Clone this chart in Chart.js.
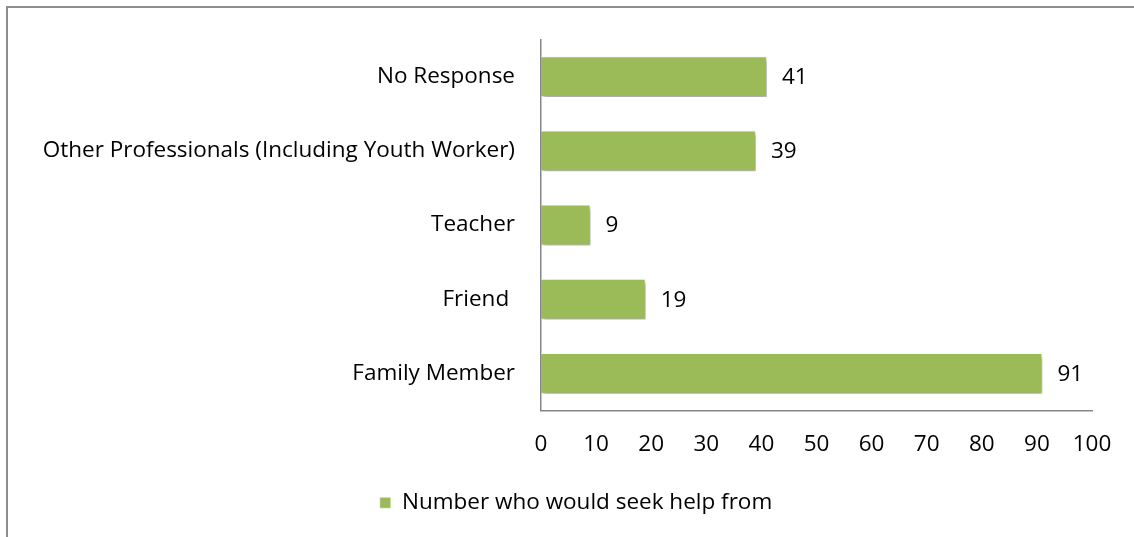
<!DOCTYPE html>
<html>
<head>
<meta charset="utf-8">
<script src="https://cdn.jsdelivr.net/npm/chart.js@4"></script>
<style>
  body { margin: 0; background: #fff; }
  #wrap { position: relative; width: 1134px; height: 537px; }
  #frame { position: absolute; left: 6px; top: 6px; right: 0; bottom: 0;
           border-top: 2px solid #8e8e8e; border-left: 2px solid #8e8e8e; pointer-events: none; }
</style>
</head>
<body>
<div id="wrap">
  <canvas id="helpChart" width="1134" height="537"></canvas>
  <div id="frame"></div>
</div>
<script>
const categories = ['No Response', 'Other Professionals (Including Youth Worker)', 'Teacher', 'Friend ', 'Family Member'];
const helpCounts = [41, 39, 9, 19, 91];
const seriesName = 'Number who would seek help from';
const xTicks = [0, 10, 20, 30, 40, 50, 60, 70, 80, 90, 100];

const barGreen = '#9bbb59';
const fontFamily = '"Open Sans", sans-serif';
const fontSize = 22.5;

// shadow under the bars + value labels at their ends
const barExtras = {
    id: 'barExtras',
    afterLayout(chart) {
        // legend sits a bit right of the canvas centre
        chart.legend.left = 60;
    },
    beforeDatasetsDraw(chart) {
        const ctx = chart.ctx;
        ctx.save();
        ctx.shadowColor = 'rgba(0,0,0,0.35)';
        ctx.shadowOffsetX = 2;
        ctx.shadowOffsetY = 3;
        ctx.shadowBlur = 4;
    },
    afterDatasetsDraw(chart) {
        const ctx = chart.ctx;
        ctx.restore();
        ctx.save();
        ctx.font = fontSize + 'px ' + fontFamily;
        ctx.fillStyle = '#000';
        ctx.textAlign = 'left';
        ctx.textBaseline = 'middle';
        const meta = chart.getDatasetMeta(0);
        meta.data.forEach((bar, i) => {
            ctx.fillText(String(chart.data.datasets[0].data[i]), bar.x + 15, bar.y + 1);
        });
        ctx.restore();
    }
};

new Chart(document.getElementById('helpChart'), {
    type: 'bar',
    data: {
        labels: categories,
        datasets: [{
            label: seriesName,
            data: helpCounts,
            backgroundColor: barGreen,
            borderColor: 'rgba(255,255,255,0.5)',
            borderWidth: 1,
            barPercentage: 0.55,
            categoryPercentage: 1
        }]
    },
    options: {
        indexAxis: 'y',
        responsive: false,
        animation: false,
        layout: { padding: { top: 35, right: 42, left: 0, bottom: 13 } },
        plugins: {
            tooltip: { enabled: false },
            legend: {
                position: 'bottom',
                labels: {
                    boxWidth: 11, boxHeight: 11, padding: 10,
                    color: '#000',
                    font: { family: fontFamily, size: fontSize }
                }
            }
        },
        scales: {
            x: {
                min: 0, max: 100,
                afterBuildTicks: (scale) => { scale.ticks = xTicks.map(v => ({ value: v })); },
                afterFit: (scale) => { scale.height = 71; },
                grid: { display: false, drawTicks: false },
                border: { display: true, color: '#868686', width: 1.5 },
                ticks: { padding: 21, color: '#000', font: { family: fontFamily, size: fontSize } }
            },
            y: {
                afterFit: (scale) => { scale.width = 541; },
                grid: { display: false, drawTicks: false },
                border: { display: true, color: '#868686', width: 1.5 },
                ticks: { padding: 26, color: '#000', font: { family: fontFamily, size: fontSize } }
            }
        }
    },
    plugins: [barExtras]
});
</script>
</body>
</html>
